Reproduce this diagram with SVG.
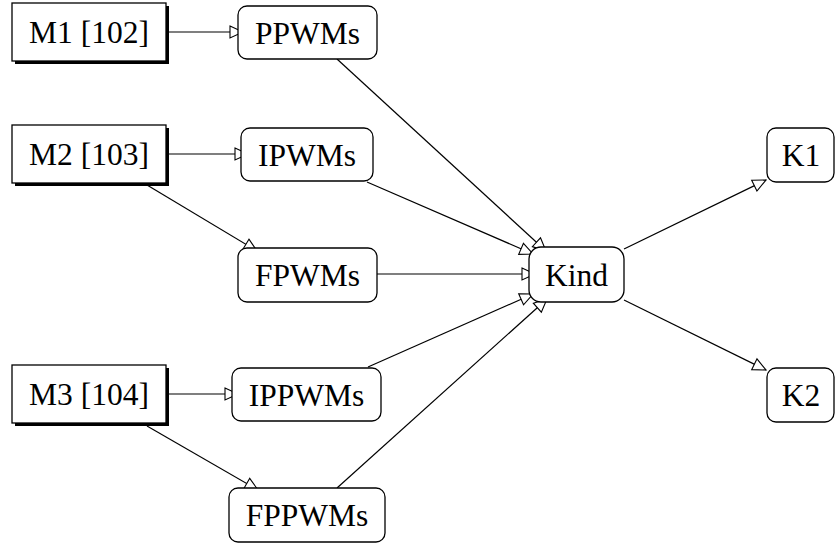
<svg xmlns="http://www.w3.org/2000/svg" width="835" height="545" viewBox="0 0 835 545">
<style>
  .box { fill: #fff; stroke: #000; stroke-width: 1.3; }
  .shadow { fill: #000; }
  .rnd { fill: #fff; stroke: #000; stroke-width: 1.3; }
  .lbl { font-family: "Liberation Serif", "Times New Roman", serif; font-size: 31.5px; fill: #000; text-anchor: middle; }
  .edge { fill: none; stroke: #000; stroke-width: 1.2; marker-end: url(#arr); }
</style>
<defs>
  <marker id="arr" markerUnits="userSpaceOnUse" viewBox="-1 -1 16 14" markerWidth="16" markerHeight="14" refX="13" refY="6" orient="auto" overflow="visible">
    <path d="M0,0 L13,6 L0,12 Z" fill="#fff" stroke="#000" stroke-width="1.1"/>
  </marker>
</defs>
<rect width="835" height="545" fill="#fff"/>

<g id="M1">
  <rect class="shadow" x="15" y="6" width="154" height="58"/>
  <rect class="box" x="12" y="3" width="154" height="58"/>
  <text class="lbl" x="89" y="43">M1 [102]</text>
</g>
<g id="M2">
  <rect class="shadow" x="15" y="128" width="154" height="58"/>
  <rect class="box" x="12" y="125" width="154" height="58"/>
  <text class="lbl" x="89" y="165">M2 [103]</text>
</g>
<g id="M3">
  <rect class="shadow" x="15" y="368" width="154" height="58"/>
  <rect class="box" x="12" y="365" width="154" height="58"/>
  <text class="lbl" x="89" y="405">M3 [104]</text>
</g>

<g id="connectors">
  <line class="edge" x1="166" y1="32" x2="243" y2="32"/>
  <line class="edge" x1="166" y1="154" x2="248" y2="154"/>
  <line class="edge" x1="147" y1="185" x2="257" y2="251"/>
  <line class="edge" x1="166" y1="394" x2="238" y2="394"/>
  <line class="edge" x1="147" y1="426" x2="258" y2="490"/>
  <line class="edge" x1="337" y1="59" x2="546" y2="251"/>
  <line class="edge" x1="367" y1="182" x2="533" y2="254"/>
  <line class="edge" x1="377" y1="274" x2="535" y2="274"/>
  <line class="edge" x1="368" y1="367" x2="533" y2="294"/>
  <line class="edge" x1="337" y1="488" x2="547" y2="299"/>
  <line class="edge" x1="624" y1="249" x2="766" y2="180"/>
  <line class="edge" x1="624" y1="300" x2="766" y2="370"/>
</g>

<g id="PPWMs">
  <rect class="rnd" x="238" y="6" width="139" height="53" rx="9"/>
  <text class="lbl" x="307.5" y="43.5">PPWMs</text>
</g>
<g id="IPWMs">
  <rect class="rnd" x="241" y="128" width="132" height="53" rx="9"/>
  <text class="lbl" x="307" y="165.5">IPWMs</text>
</g>
<g id="FPWMs">
  <rect class="rnd" x="238" y="248" width="139" height="54" rx="9"/>
  <text class="lbl" x="307.5" y="286">FPWMs</text>
</g>
<g id="IPPWMs">
  <rect class="rnd" x="232" y="368" width="149" height="53" rx="9"/>
  <text class="lbl" x="306.5" y="405.5">IPPWMs</text>
</g>
<g id="FPPWMs">
  <rect class="rnd" x="229" y="488" width="156" height="54" rx="9"/>
  <text class="lbl" x="307" y="526">FPPWMs</text>
</g>
<g id="Kind">
  <rect class="rnd" x="529" y="247" width="95" height="55" rx="12"/>
  <text class="lbl" x="576.5" y="285.5">Kind</text>
</g>
<g id="K1">
  <rect class="rnd" x="767" y="128" width="67" height="54" rx="9"/>
  <text class="lbl" x="801" y="166">K1</text>
</g>
<g id="K2">
  <rect class="rnd" x="767" y="368" width="67" height="54" rx="9"/>
  <text class="lbl" x="801" y="406">K2</text>
</g>
</svg>
